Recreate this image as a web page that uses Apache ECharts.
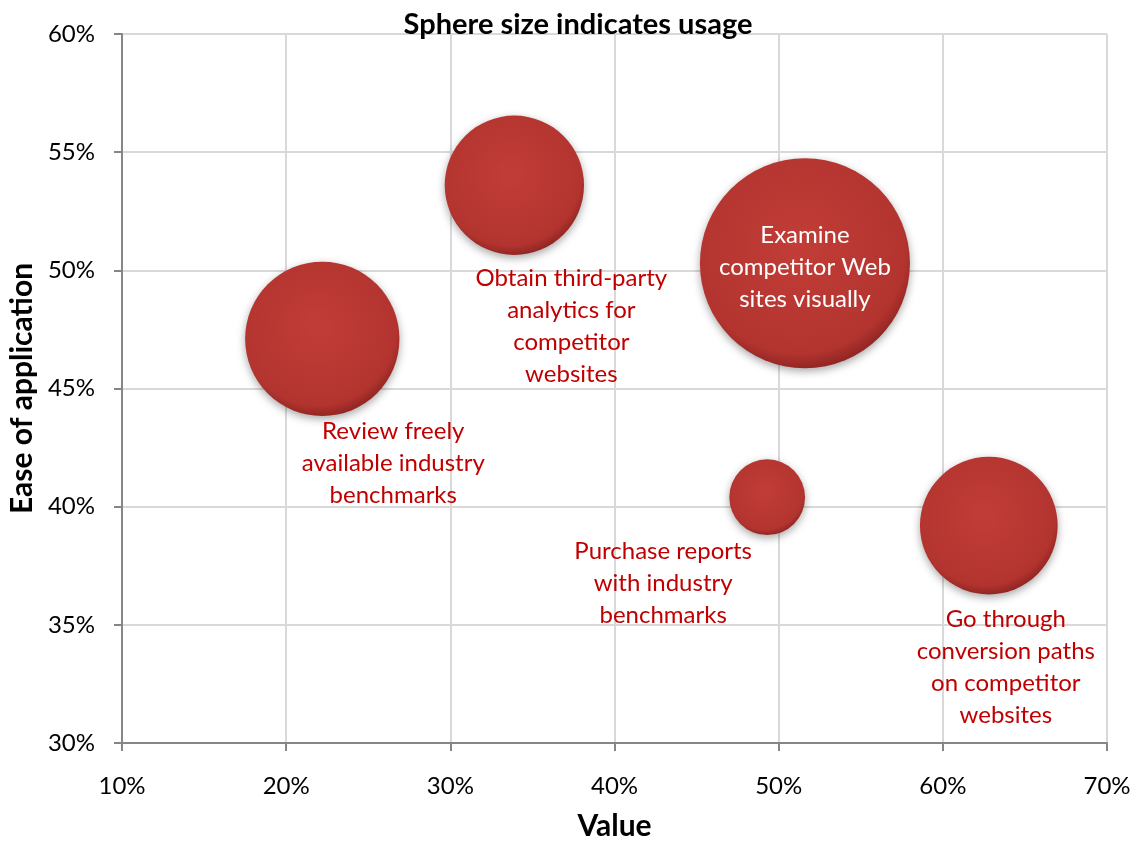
<!DOCTYPE html>
<html>
<head>
<meta charset="utf-8">
<script src="https://cdn.jsdelivr.net/npm/echarts@6/dist/echarts.min.js"></script>
<style>
html,body{margin:0;padding:0;background:#fff;}
#chart{width:1138px;height:842px;}
</style>
</head>
<body>
<div id="chart"></div>
<script>
// Data
var names = [
  'Review freely\navailable industry\nbenchmarks',
  'Obtain third-party\nanalytics for\ncompetitor\nwebsites',
  'Examine\ncompetitor Web\nsites visually',
  'Purchase reports\nwith industry\nbenchmarks',
  'Go through\nconversion paths\non competitor\nwebsites'
];
var valueX = [22.2, 33.9, 51.6, 49.3, 62.8];     // Value (%)
var easeY  = [47.1, 53.6, 50.3, 40.4, 39.2];     // Ease of application (%)
var usage  = [54, 44, 100, 13, 43];              // relative usage (bubble area)
var xTicks = [10, 20, 30, 40, 50, 60, 70];
var yTicks = [30, 35, 40, 45, 50, 55, 60];

// label placement (styling only)
var labelOffsets = [[71, 124], [57, 141], [0, 4], [-104, 86], [17, 142]];
var labelColors  = ['#c00000', '#c00000', '#ffffff', '#c00000', '#c00000'];

var maxDiameter = 210;
var maxUsage = Math.max.apply(null, usage);
function sizeOf(u){ return maxDiameter * Math.sqrt(u / maxUsage); }

var FONT = 'Lato, "Open Sans", sans-serif';

var data = names.map(function(n, i){
  return {
    name: n,
    value: [valueX[i], easeY[i], usage[i]],
    label: {
      show: true,
      position: 'inside',
      offset: labelOffsets[i],
      color: labelColors[i],
      formatter: '{b}',
      fontSize: 24,
      lineHeight: 32,
      fontFamily: FONT,
      align: 'center'
    }
  };
});

var chart = echarts.init(document.getElementById('chart'));
chart.setOption({
  animation: false,
  backgroundColor: '#ffffff',
  title: {
    text: 'Sphere size indicates usage',
    left: 573, top: 5, textAlign: 'center',
    textStyle: {fontSize: 29, fontWeight: 'bold', color: '#000', fontFamily: FONT}
  },
  grid: {left: 122, right: 31, top: 34, bottom: 99, outerBoundsMode: 'none', containLabel: false},
  xAxis: {
    type: 'value', min: xTicks[0], max: xTicks[xTicks.length - 1], interval: 10,
    name: 'Value', nameLocation: 'middle', nameGap: 68,
    nameTextStyle: {fontSize: 30, fontWeight: 'bold', color: '#000', fontFamily: FONT},
    axisLine: {show: true, onZero: false, lineStyle: {color: '#868686', width: 2}},
    axisTick: {show: true, length: 8, lineStyle: {color: '#868686', width: 2}},
    axisLabel: {formatter: '{value}%', fontSize: 24, color: '#000', margin: 31, fontFamily: FONT},
    splitLine: {show: true, lineStyle: {color: '#d9d9d9', width: 2}}
  },
  yAxis: {
    type: 'value', min: yTicks[0], max: yTicks[yTicks.length - 1], interval: 5,
    name: 'Ease of application', nameLocation: 'middle', nameGap: 83, nameRotate: 90,
    nameTextStyle: {fontSize: 30, fontWeight: 'bold', color: '#000', fontFamily: FONT},
    axisLine: {show: true, onZero: false, lineStyle: {color: '#868686', width: 2}},
    axisTick: {show: true, length: 8, lineStyle: {color: '#868686', width: 2}},
    axisLabel: {formatter: '{value}%', fontSize: 24, color: '#000', margin: 27, fontFamily: FONT},
    splitLine: {show: true, lineStyle: {color: '#d9d9d9', width: 2}}
  },
  series: [{
    type: 'scatter',
    data: data,
    symbolSize: function(v){ return sizeOf(v[2]); },
    itemStyle: {
      color: new echarts.graphic.RadialGradient(0.47, 0.42, 0.6, [
        {offset: 0, color: '#c23d37'},
        {offset: 0.85, color: '#b3342f'},
        {offset: 1, color: '#8a221f'}
      ]),
      shadowBlur: 8,
      shadowColor: 'rgba(0,0,0,0.35)',
      shadowOffsetY: 3,
      opacity: 1
    },
    emphasis: {disabled: true}
  }]
});
</script>
</body>
</html>
